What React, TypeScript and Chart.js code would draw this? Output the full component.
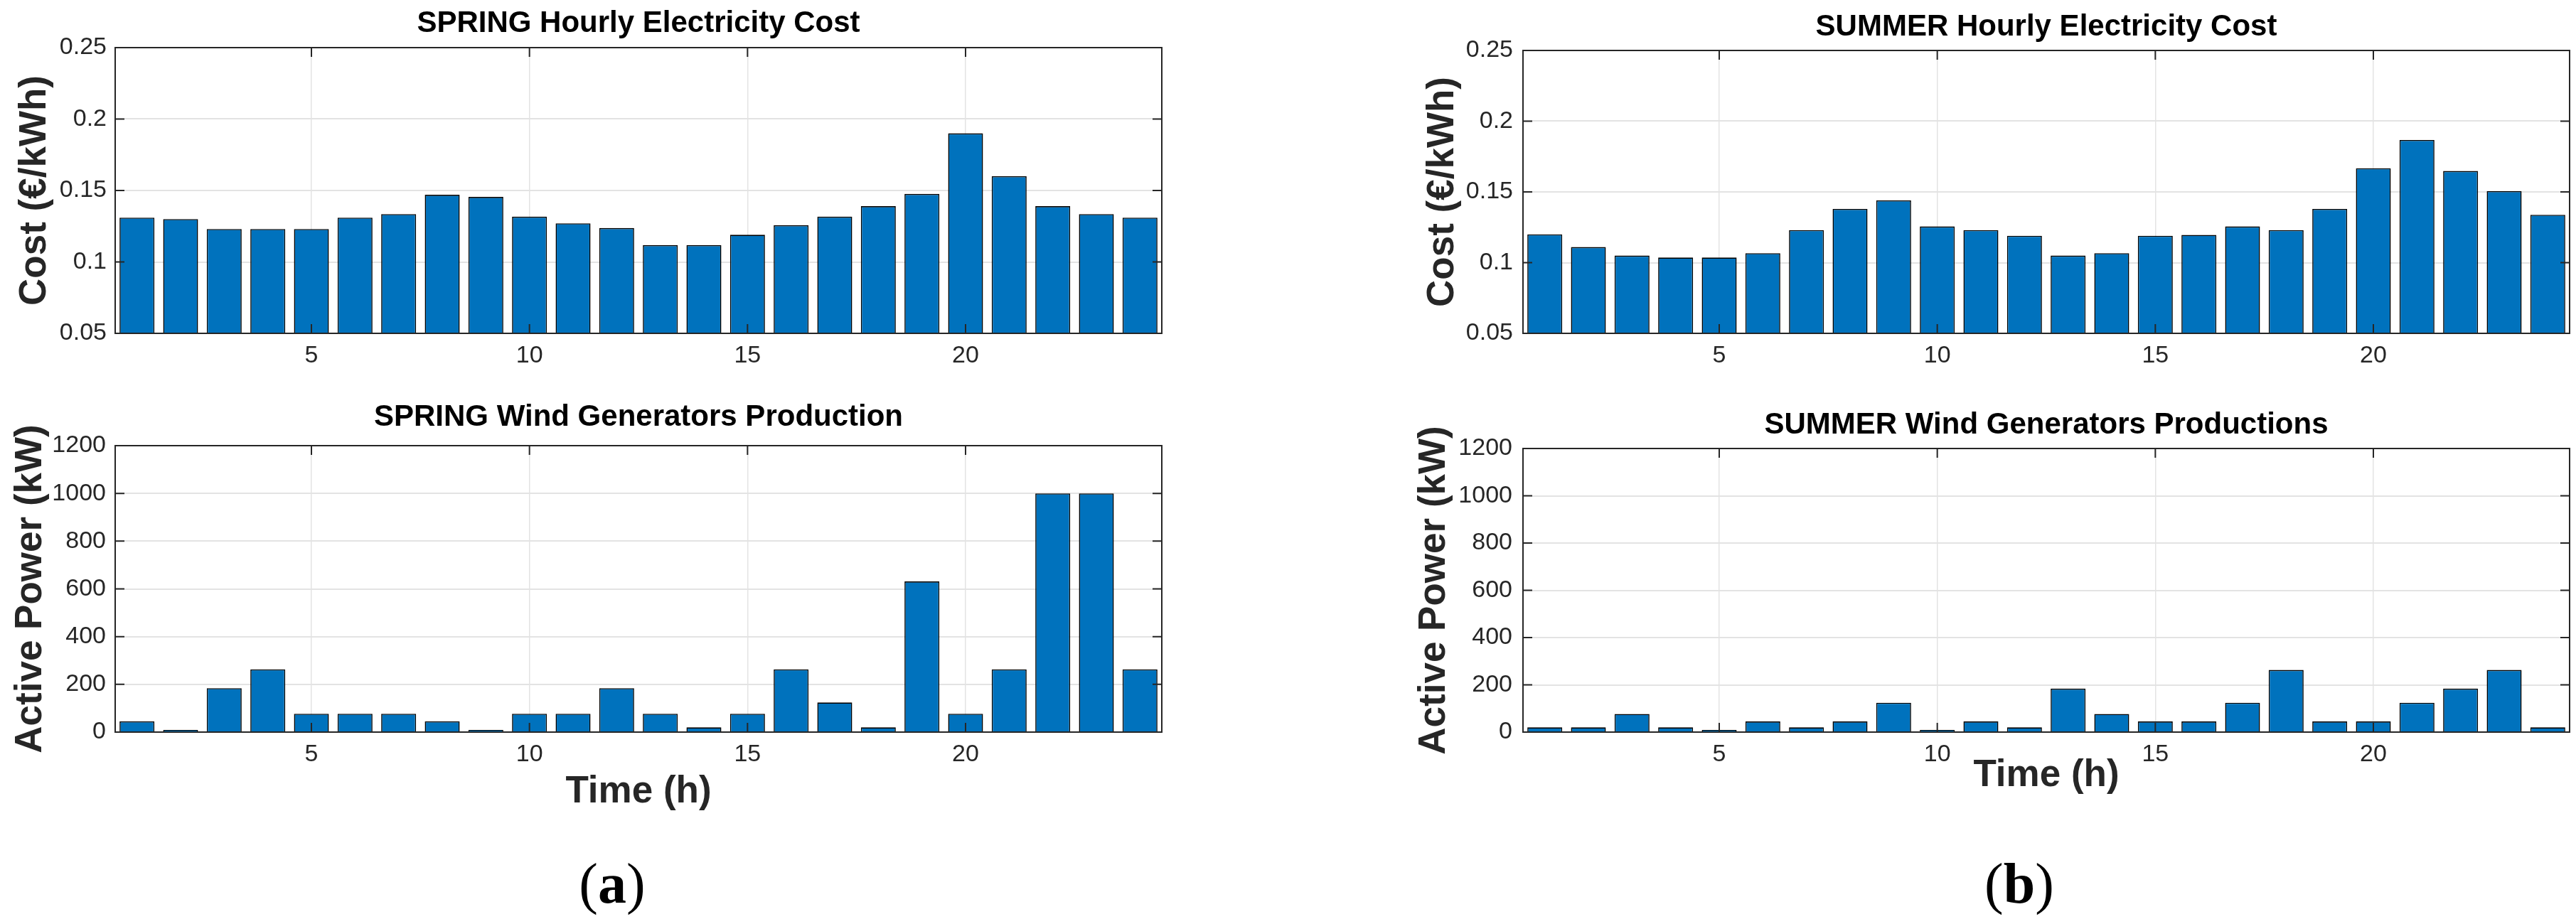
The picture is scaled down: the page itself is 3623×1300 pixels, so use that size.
import React, { useEffect, useRef } from 'react';
import { Chart, registerables } from 'chart.js';

Chart.register(...registerables);

// ---------- data ----------
const hours = ['1','2','3','4','5','6','7','8','9','10','11','12','13','14','15','16','17','18','19','20','21','22','23','24'];
const hourTickLabels = [5, 10, 15, 20];

const springCost = [0.131, 0.130, 0.123, 0.123, 0.123, 0.131, 0.1335, 0.147, 0.1455, 0.1317, 0.127, 0.1237, 0.1118, 0.1118, 0.119, 0.1257, 0.1317, 0.139, 0.1476, 0.190, 0.160, 0.139, 0.1335, 0.131];
const summerCost = [0.120, 0.111, 0.105, 0.1036, 0.1036, 0.1067, 0.123, 0.138, 0.144, 0.1256, 0.123, 0.119, 0.105, 0.1067, 0.119, 0.1196, 0.1256, 0.123, 0.138, 0.1667, 0.1867, 0.1648, 0.1506, 0.1338];
const springWind = [45, 9, 184, 263, 77, 77, 77, 45, 9, 77, 77, 184, 77, 20, 77, 263, 124, 20, 631, 77, 263, 1000, 1000, 263];
const summerWind = [20, 20, 77, 20, 9, 45, 20, 45, 124, 9, 45, 20, 184, 77, 45, 45, 124, 263, 45, 45, 124, 184, 263, 20];

const costTicks = [0.05, 0.1, 0.15, 0.2, 0.25];
const powerTicks = [0, 200, 400, 600, 800, 1000, 1200];

// ---------- styles ----------
const BAR_COLOR = '#0072BD';
const GRID_COLOR = '#e3e3e3';
const AXIS_COLOR = '#262626';
const FONT = "'Liberation Sans', Arial, Helvetica, sans-serif";

interface PanelSpec {
  left: number; top: number; width: number; height: number;
  area: { left: number; right: number; top: number; bottom: number };
  title: string; titleCenter: number;
  yTitle: string; yTitleCenter: number; yTickPad: number;
  xTitle?: string; xTitleCenter?: number;
  values: number[]; yTicks: number[];
}

const TITLE_SIZE = 42;
const AXIS_TITLE_SIZE = 53;
const TICK_SIZE = 34;

const boxPlugin = {
  id: 'matlabBox',
  afterDraw(chart: any) {
    const { ctx, chartArea } = chart;
    const { left, right, top, bottom } = chartArea;
    const xs = chart.scales.x;
    const ys = chart.scales.y;
    ctx.save();
    ctx.strokeStyle = AXIS_COLOR;
    ctx.lineWidth = 2;
    ctx.beginPath();
    const L = 13;
    hourTickLabels.forEach((h) => {
      const px = xs.getPixelForValue(h - 1);
      ctx.moveTo(px, bottom);
      ctx.lineTo(px, bottom - L);
      ctx.moveTo(px, top);
      ctx.lineTo(px, top + L);
    });
    (chart.options.plugins.matlabBox.yTicks as number[]).forEach((v) => {
      const py = ys.getPixelForValue(v);
      ctx.moveTo(left, py);
      ctx.lineTo(left + L, py);
      ctx.moveTo(right, py);
      ctx.lineTo(right - L, py);
    });
    ctx.stroke();
    ctx.strokeRect(left, top, right - left, bottom - top);
    ctx.restore();
  },
};

function Panel({ spec }: { spec: PanelSpec }) {
  const ref = useRef<HTMLCanvasElement>(null);
  useEffect(() => {
    if (!ref.current) return;
    const { area, width, height } = spec;
    const titleLH = TITLE_SIZE * 1.2;
    const titlePadTop = spec.titleCenter - titleLH / 2;
    const titlePadBottom = area.top - titlePadTop - titleLH;
    const axisLH = AXIS_TITLE_SIZE * 1.2;
    const yTitlePad = spec.yTitleCenter - axisLH / 2;
    const xTitlePad = spec.xTitleCenter !== undefined ? height - spec.xTitleCenter - axisLH / 2 : 0;
    const yAxisWidth = area.left;
    const xAxisHeight = height - area.bottom;

    const chart = new Chart(ref.current, {
      type: 'bar',
      data: {
        labels: hours,
        datasets: [
          {
            data: spec.values,
            backgroundColor: BAR_COLOR,
            borderColor: '#000000',
            borderWidth: 1.6,
            barPercentage: 0.8,
            categoryPercentage: 1.0,
          },
        ],
      },
      options: {
        animation: false,
        responsive: false,
        devicePixelRatio: 1,
        layout: { padding: { left: 0, top: 0, bottom: 0, right: width - area.right } },
        plugins: {
          legend: { display: false },
          tooltip: { enabled: false },
          title: {
            display: true,
            text: spec.title,
            fullSize: false,
            color: '#000000',
            font: { family: FONT, size: TITLE_SIZE, weight: 'bold', lineHeight: 1.2 },
            padding: { top: titlePadTop, bottom: titlePadBottom },
          },
          matlabBox: { yTicks: spec.yTicks },
        } as any,
        scales: {
          x: {
            type: 'category',
            offset: true,
            grid: {
              offset: false,
              drawTicks: false,
              lineWidth: 1.5,
              color: (c: any) => (hourTickLabels.includes(c.index + 1) ? GRID_COLOR : 'rgba(0,0,0,0)'),
            },
            border: { display: false },
            ticks: {
              autoSkip: false,
              maxRotation: 0,
              minRotation: 0,
              padding: 11,
              color: AXIS_COLOR,
              font: { family: FONT, size: TICK_SIZE },
              callback: (_v: any, i: number) => (hourTickLabels.includes(i + 1) ? hours[i] : ''),
            },
            title: {
              display: !!spec.xTitle,
              text: spec.xTitle || '',
              color: AXIS_COLOR,
              font: { family: FONT, size: AXIS_TITLE_SIZE, weight: 'bold', lineHeight: 1.2 },
              padding: { top: 0, bottom: xTitlePad },
            },
            afterFit: (s: any) => {
              s.height = xAxisHeight;
            },
          },
          y: {
            type: 'linear',
            min: spec.yTicks[0],
            max: spec.yTicks[spec.yTicks.length - 1],
            afterBuildTicks: (s: any) => {
              s.ticks = spec.yTicks.map((v) => ({ value: v }));
            },
            grid: { drawTicks: false, lineWidth: 2, color: GRID_COLOR },
            border: { display: false },
            ticks: {
              padding: spec.yTickPad,
              color: AXIS_COLOR,
              font: { family: FONT, size: TICK_SIZE },
              callback: (v: any) => String(v),
            },
            title: {
              display: true,
              text: spec.yTitle,
              color: AXIS_COLOR,
              font: { family: FONT, size: AXIS_TITLE_SIZE, weight: 'bold', lineHeight: 1.2 },
              padding: { top: yTitlePad, bottom: 0 },
            },
            afterFit: (s: any) => {
              s.width = yAxisWidth;
            },
          },
        },
      } as any,
      plugins: [boxPlugin],
    });
    return () => chart.destroy();
  }, [spec]);

  return (
    <canvas
      ref={ref}
      width={spec.width}
      height={spec.height}
      style={{ position: 'absolute', left: spec.left, top: spec.top, width: spec.width, height: spec.height }}
    />
  );
}

const panels: PanelSpec[] = [
  {
    left: 0, top: 0, width: 1660, height: 530,
    area: { left: 162, right: 1634, top: 67, bottom: 469 },
    title: 'SPRING Hourly Electricity Cost', titleCenter: 33,
    yTitle: 'Cost (€/kWh)', yTitleCenter: 49, yTickPad: 12,
    values: springCost, yTicks: costTicks,
  },
  {
    left: 0, top: 530, width: 1660, height: 640,
    area: { left: 162, right: 1634, top: 97, bottom: 500 },
    title: 'SPRING Wind Generators Production', titleCenter: 57,
    yTitle: 'Active Power (kW)', yTitleCenter: 43, yTickPad: 13,
    xTitle: 'Time (h)', xTitleCenter: 584,
    values: springWind, yTicks: powerTicks,
  },
  {
    left: 1950, top: 0, width: 1673, height: 530,
    area: { left: 192, right: 1664, top: 71, bottom: 469 },
    title: 'SUMMER Hourly Electricity Cost', titleCenter: 38,
    yTitle: 'Cost (€/kWh)', yTitleCenter: 79, yTickPad: 14,
    values: summerCost, yTicks: costTicks,
  },
  {
    left: 1950, top: 530, width: 1673, height: 640,
    area: { left: 192, right: 1664, top: 101, bottom: 500 },
    title: 'SUMMER Wind Generators Productions', titleCenter: 68,
    yTitle: 'Active Power (kW)', yTitleCenter: 67, yTickPad: 15,
    xTitle: 'Time (h)', xTitleCenter: 561,
    values: summerWind, yTicks: powerTicks,
  },
];

const subLabelStyle = (x: number): React.CSSProperties => ({
  position: 'absolute',
  left: x,
  top: 1243,
  transform: 'translate(-50%, -50%)',
  fontFamily: "'Liberation Serif', 'Times New Roman', serif",
  fontSize: 80,
  color: '#000',
  whiteSpace: 'nowrap',
});

export default function App() {
  return (
    <div style={{ position: 'absolute', left: 0, top: 0, width: 3623, height: 1300, background: '#ffffff', overflow: 'hidden' }}>
      {panels.map((p, i) => (
        <Panel key={i} spec={p} />
      ))}
      <div style={subLabelStyle(861)}>(<b>a</b>)</div>
      <div style={subLabelStyle(2840)}>(<b>b</b>)</div>
    </div>
  );
}
